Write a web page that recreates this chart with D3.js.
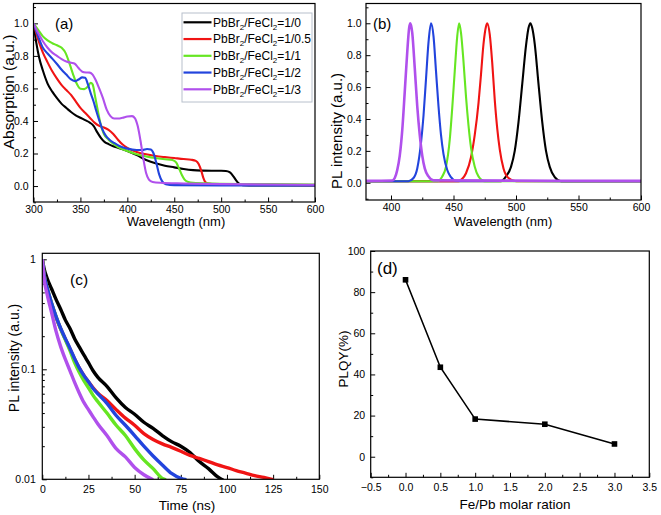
<!DOCTYPE html>
<html><head><meta charset="utf-8">
<script src="https://cdn.jsdelivr.net/npm/d3@7/dist/d3.min.js"></script>
<style>
body{margin:0;background:#fff}
text{font-family:"Liberation Sans",Arial,Helvetica,sans-serif;fill:#000}
</style>
</head><body>
<svg id="chart" width="661" height="515"></svg>
<script>
// ---------- DATA ----------
const ratios = ["1/0", "1/0.5", "1/1", "1/2", "1/3"];
const colors = ["#000000", "#f01414", "#66e622", "#2244dd", "#b050ec"];

// (a) absorption [wavelength nm, absorbance]
const abs_1_0 = [[300,1.0],[303,0.88],[306,0.79],[310,0.71],[315,0.63],[320,0.58],[325,0.54],[330,0.505],[335,0.48],[340,0.455],[345,0.435],[350,0.42],[355,0.405],[360,0.39],[364,0.37],[368,0.33],[372,0.295],[376,0.27],[380,0.258],[385,0.245],[390,0.235],[400,0.215],[410,0.19],[420,0.16],[430,0.14],[440,0.125],[450,0.115],[460,0.105],[470,0.098],[480,0.095],[490,0.094],[500,0.094],[505,0.093],[509,0.085],[513,0.06],[516,0.035],[519,0.015],[523,0.006],[540,0.004],[600,0.003]];
const abs_1_05 = [[300,1.0],[305,0.9],[310,0.82],[315,0.76],[320,0.705],[325,0.66],[330,0.62],[335,0.59],[340,0.56],[345,0.52],[350,0.48],[355,0.45],[360,0.42],[365,0.39],[370,0.37],[375,0.36],[380,0.345],[385,0.32],[390,0.285],[395,0.255],[400,0.235],[410,0.21],[420,0.195],[430,0.185],[440,0.178],[450,0.172],[460,0.166],[468,0.162],[473,0.155],[476,0.135],[479,0.09],[481,0.05],[483,0.025],[486,0.015],[495,0.01],[520,0.008],[600,0.006]];
const abs_1_1 = [[300,1.0],[305,0.96],[310,0.92],[315,0.895],[320,0.878],[325,0.865],[330,0.85],[334,0.82],[338,0.76],[342,0.69],[346,0.63],[350,0.598],[354,0.596],[358,0.612],[361,0.635],[363,0.625],[366,0.54],[369,0.45],[372,0.37],[375,0.32],[380,0.285],[385,0.26],[390,0.24],[400,0.215],[410,0.195],[420,0.182],[430,0.172],[440,0.165],[448,0.16],[452,0.145],[455,0.11],[458,0.07],[461,0.04],[465,0.025],[470,0.02],[490,0.016],[550,0.012],[600,0.01]];
const abs_1_2 = [[300,1.0],[305,0.92],[310,0.85],[315,0.815],[320,0.783],[325,0.75],[330,0.715],[335,0.685],[340,0.655],[344,0.645],[348,0.655],[352,0.668],[355,0.665],[358,0.625],[361,0.57],[364,0.52],[367,0.46],[370,0.405],[373,0.355],[377,0.31],[381,0.285],[386,0.265],[392,0.245],[400,0.23],[410,0.222],[416,0.222],[421,0.228],[425,0.225],[428,0.2],[431,0.14],[434,0.07],[437,0.03],[441,0.012],[450,0.006],[500,0.004],[600,0.003]];
const abs_1_3 = [[300,1.0],[305,0.94],[310,0.89],[315,0.85],[320,0.82],[325,0.8],[330,0.78],[335,0.765],[340,0.758],[344,0.752],[348,0.725],[352,0.703],[356,0.698],[360,0.697],[363,0.685],[366,0.655],[370,0.6],[374,0.54],[378,0.47],[382,0.43],[386,0.415],[390,0.415],[395,0.42],[400,0.428],[405,0.43],[408,0.418],[411,0.37],[414,0.28],[417,0.17],[420,0.08],[423,0.04],[427,0.025],[435,0.02],[460,0.016],[500,0.012],[600,0.008]];
const absSeries = [abs_1_0, abs_1_05, abs_1_1, abs_1_2, abs_1_3];

// (b) PL spectra [wavelength nm, normalized intensity]
const pl_1_0 = [[380,0.01],[488,0.01],[492,0.04],[496,0.1],[499,0.2],[502,0.38],[505,0.62],[508,0.86],[510,0.97],[511.5,1.0],[513,0.97],[515,0.87],[518,0.62],[521,0.38],[524,0.2],[527,0.1],[531,0.035],[536,0.01],[600,0.01]];
const pl_1_05 = [[380,0.01],[454,0.01],[457,0.025],[460,0.06],[464,0.16],[467,0.3],[470,0.5],[472,0.68],[474,0.87],[476,0.98],[477,1.0],[479,0.93],[481,0.75],[483,0.52],[485,0.34],[487,0.21],[490,0.09],[494,0.03],[500,0.01],[600,0.01]];
const pl_1_1 = [[380,0.01],[437,0.01],[441,0.04],[444,0.1],[447,0.27],[449,0.47],[451,0.7],[453,0.92],[454.5,1.0],[456,0.94],[458,0.76],[460,0.54],[462,0.36],[464,0.22],[467,0.1],[470,0.04],[475,0.01],[600,0.01]];
const pl_1_2 = [[380,0.01],[414,0.01],[418,0.03],[421,0.09],[424,0.25],[426,0.42],[428,0.65],[430,0.88],[432,1.0],[434,0.92],[436,0.7],[438,0.48],[440,0.3],[442,0.18],[445,0.08],[448,0.035],[452,0.012],[600,0.01]];
const pl_1_3 = [[380,0.012],[401,0.014],[403,0.03],[405,0.08],[407,0.17],[409,0.33],[411,0.57],[413,0.82],[414.5,0.97],[415.5,1.0],[417,0.94],[419,0.72],[421,0.48],[423,0.3],[425,0.17],[427,0.09],[430,0.04],[434,0.015],[600,0.012]];
const plSeries = [pl_1_0, pl_1_05, pl_1_1, pl_1_2, pl_1_3];

// (c) PL decay [time ns, normalized intensity]
const tr_1_0 = [[0,1.0],[1,0.82],[2.5,0.68],[5,0.54],[7.5,0.43],[10,0.35],[12.5,0.28],[15,0.235],[17.5,0.19],[20,0.16],[22.5,0.135],[25,0.115],[27.5,0.097],[30,0.085],[35,0.07],[40,0.055],[45,0.045],[50,0.039],[55,0.033],[60,0.029],[65,0.025],[70,0.022],[75,0.02],[80,0.0175],[85,0.0145],[90,0.0125],[95,0.0105],[98,0.0098]];
const tr_1_05 = [[0,1.0],[1,0.72],[2.5,0.555],[5,0.397],[7.5,0.297],[10,0.232],[12.5,0.188],[15,0.153],[17.5,0.124],[20,0.103],[22.5,0.088],[25,0.077],[27.5,0.068],[30,0.061],[35,0.052],[40,0.043],[45,0.036],[50,0.031],[55,0.026],[60,0.023],[65,0.021],[70,0.0195],[75,0.018],[80,0.0165],[85,0.0155],[90,0.0145],[95,0.0135],[100,0.0128],[105,0.012],[110,0.0114],[115,0.0108],[120,0.0104],[125,0.0099]];
const tr_1_1 = [[0,1.0],[1,0.72],[2.5,0.56],[5,0.4],[7.5,0.3],[10,0.232],[12.5,0.185],[15,0.148],[17.5,0.115],[20,0.094],[22.5,0.079],[25,0.068],[27.5,0.058],[30,0.051],[35,0.04],[40,0.031],[45,0.025],[50,0.019],[55,0.015],[60,0.0125],[65,0.0102],[67,0.0099]];
const tr_1_2 = [[0,1.0],[1,0.72],[2.5,0.56],[5,0.4],[7.5,0.3],[10,0.235],[12.5,0.19],[15,0.155],[17.5,0.125],[20,0.103],[22.5,0.088],[25,0.077],[27.5,0.067],[30,0.06],[35,0.049],[40,0.038],[45,0.031],[50,0.025],[55,0.02],[60,0.0163],[65,0.0135],[70,0.0113],[75,0.0102],[78,0.0099]];
const tr_1_3 = [[0,1.0],[1,0.66],[2.5,0.49],[5,0.33],[7.5,0.22],[10,0.16],[12.5,0.123],[15,0.097],[17.5,0.076],[20,0.061],[22.5,0.05],[25,0.043],[27.5,0.037],[30,0.032],[35,0.025],[40,0.019],[45,0.016],[50,0.0128],[55,0.011],[60,0.0099]];
const trSeries = [tr_1_0, tr_1_05, tr_1_1, tr_1_2, tr_1_3];

// (d) PLQY
const feRatio = [0, 0.5, 1, 2, 3];
const plqy = [86, 43.5, 18.3, 15.8, 6.2];

// tick values
const ticksA_x = [300,350,400,450,500,550,600];
const ticksA_y = [0,0.2,0.4,0.6,0.8,1.0];
const ticksB_x = [400,450,500,550,600];
const ticksC_x = [0,25,50,75,100,125,150];
const ticksC_y = [0.01,0.1,1];
const ticksD_x = [-0.5,0,0.5,1,1.5,2,2.5,3,3.5];
const ticksD_y = [0,20,40,60,80,100];

// ---------- DRAW ----------
const svg = d3.select("#chart");
const TICKFONT = 10.5;

function panel(o){
  const g = svg.append("g");
  const x = d3.scaleLinear().domain(o.xd).range([o.L, o.R]);
  const y = (o.log ? d3.scaleLog() : d3.scaleLinear()).domain(o.yd).range([o.B, o.T]);
  const cid = "clip-" + o.name;
  svg.append("clipPath").attr("id", cid).append("rect")
    .attr("x", o.L).attr("y", o.T).attr("width", o.R - o.L).attr("height", o.B - o.T);
  if (o.xminor) g.append("g").attr("transform", `translate(0,${o.B})`)
    .call(d3.axisBottom(x).tickValues(o.xminor).tickFormat("").tickSizeInner(-2.5).tickSizeOuter(0))
    .call(s => s.select(".domain").remove());
  if (o.yminor) g.append("g").attr("transform", `translate(${o.L},0)`)
    .call(d3.axisLeft(y).tickValues(o.yminor).tickFormat("").tickSizeInner(-2.5).tickSizeOuter(0))
    .call(s => s.select(".domain").remove());
  const xa = g.append("g").attr("transform", `translate(0,${o.B})`)
    .call(d3.axisBottom(x).tickValues(o.xt).tickFormat(o.xf).tickSizeInner(-4.5).tickSizeOuter(0).tickPadding(o.xpad));
  const ya = g.append("g").attr("transform", `translate(${o.L},0)`)
    .call(d3.axisLeft(y).tickValues(o.yt).tickFormat(o.yf).tickSizeInner(-4.5).tickSizeOuter(0).tickPadding(o.ypad));
  [xa, ya].forEach(a => {
    a.select(".domain").remove();
    a.selectAll("text").style("font-size", TICKFONT + "px").attr("fill", "#000");
  });
  g.selectAll(".tick line").attr("stroke", "#000").attr("stroke-width", 1);
  const plot = g.append("g").attr("clip-path", `url(#${cid})`);
  g.append("rect").attr("x", o.L).attr("y", o.T).attr("width", o.R - o.L).attr("height", o.B - o.T)
    .attr("fill", "none").attr("stroke", "#000").attr("stroke-width", 1.2);
  g.append("text").attr("x", o.xtitle[0]).attr("y", o.xtitle[1]).attr("text-anchor", "middle")
    .style("font-size", o.xtitle[2] + "px").text(o.xtitle[3]);
  g.append("text").attr("transform", `translate(${o.ytitle[0]},${o.ytitle[1]}) rotate(-90)`)
    .attr("text-anchor", "middle").attr("dy", "0.35em")
    .style("font-size", o.ytitle[2] + "px").text(o.ytitle[3]);
  g.append("text").attr("x", o.label[0]).attr("y", o.label[1])
    .style("font-size", o.label[2] + "px").text(o.label[3]);
  return {g, x, y, plot};
}

const range = (a, b, s) => d3.range(a, b + s / 2, s);

// (a)
const pa = panel({name:"a", L:33.5, R:315, T:3.5, B:202, xd:[300,600], yd:[-0.098,1.122],
  xt:ticksA_x, xf:d3.format("d"), yt:ticksA_y, yf:d3.format(".1f"),
  xminor:range(325,575,50), yminor:[-0.1,0.1,0.3,0.5,0.7,0.9,1.1],
  xpad:4, ypad:5,
  xtitle:[176,226,13,"Wavelength (nm)"], ytitle:[8.5,92,15.5,"Absorption (a.u.)"], label:[55,29,15,"(a)"]});
const lineA = d3.line().x(d => pa.x(d[0])).y(d => pa.y(d[1])).curve(d3.curveMonotoneX);
absSeries.forEach((s, i) => pa.plot.append("path").datum(s).attr("d", lineA)
  .attr("fill", "none").attr("stroke", colors[i]).attr("stroke-width", 2.1));

// legend
const lg = pa.g.append("g");
lg.append("rect").attr("x", 182).attr("y", 13).attr("width", 130).attr("height", 89)
  .attr("fill", "#fff").attr("stroke", "#b8c0cc").attr("stroke-width", 1);
ratios.forEach((r, i) => {
  const yy = 22.3 + i * 16.75;
  lg.append("line").attr("x1", 183.5).attr("x2", 211.5).attr("y1", yy).attr("y2", yy)
    .attr("stroke", colors[i]).attr("stroke-width", 2.2);
  const t = lg.append("text").attr("x", 213).attr("y", yy).attr("dy", "0.36em").style("font-size", "12px");
  t.append("tspan").text("PbBr");
  t.append("tspan").text("2").style("font-size", "8px").attr("dy", 3);
  t.append("tspan").text("/FeCl").attr("dy", -3);
  t.append("tspan").text("2").style("font-size", "8px").attr("dy", 3);
  t.append("tspan").text("=" + r).attr("dy", -3);
});

// (b)
const pb = panel({name:"b", L:366, R:641, T:3.5, B:200, xd:[380,600], yd:[-0.108,1.124],
  xt:ticksB_x, xf:d3.format("d"), yt:ticksA_y, yf:d3.format(".1f"),
  xminor:range(425,575,50), yminor:[-0.1,0.1,0.3,0.5,0.7,0.9,1.1],
  xpad:4, ypad:4.5,
  xtitle:[503,226,13,"Wavelength (nm)"], ytitle:[337,131,15,"PL intensity (a.u.)"], label:[373,29,15,"(b)"]});
const lineB = d3.line().x(d => pb.x(d[0])).y(d => pb.y(d[1])).curve(d3.curveMonotoneX);
plSeries.forEach((s, i) => pb.plot.append("path").datum(s).attr("d", lineB)
  .attr("fill", "none").attr("stroke", colors[i]).attr("stroke-width", i === 4 ? 2.6 : 2.1));

// (c)
const minorLog = [];
[0.01, 0.1].forEach(d => { for (let k = 2; k <= 9; k++) minorLog.push(d * k); });
const pc = panel({name:"c", L:42.3, R:319.3, T:253.3, B:479.3, xd:[0,150], yd:[0.01,1.134], log:true,
  xt:ticksC_x, xf:d3.format("d"), yt:ticksC_y, yf:d => (d === 1 ? "1" : String(d)),
  xminor:range(12.5,137.5,25), yminor:minorLog,
  xpad:6, ypad:6.5,
  xtitle:[187,510,13.5,"Time (ns)"], ytitle:[14,358,14,"PL intensity (a.u.)"], label:[70,285,15.5,"(c)"]});
const lineC = d3.line().x(d => pc.x(d[0])).y(d => pc.y(d[1])).curve(d3.curveMonotoneX);
trSeries.forEach((s, i) => pc.plot.append("path").datum(s).attr("d", lineC)
  .attr("fill", "none").attr("stroke", colors[i]).attr("stroke-width", 3.4).attr("stroke-linejoin", "round"));

// (d)
const pd = panel({name:"d", L:370.7, R:649.3, T:251, B:477.3, xd:[-0.5,3.5], yd:[-10,100],
  xt:ticksD_x, xf:d3.format(".1f"), yt:ticksD_y, yf:d3.format("d"),
  xminor:range(-0.25,3.25,0.5), yminor:range(-10,90,20),
  xpad:6, ypad:5.5,
  xtitle:[515,509,13.5,"Fe/Pb molar ration"], ytitle:[343,359,13.5,"PLQY(%)"], label:[377,274,17,"(d)"]});
const qy = feRatio.map((f, i) => [f, plqy[i]]);
pd.plot.append("path").datum(qy)
  .attr("d", d3.line().x(d => pd.x(d[0])).y(d => pd.y(d[1])))
  .attr("fill", "none").attr("stroke", "#000").attr("stroke-width", 1.6);
pd.plot.selectAll("rect.m").data(qy).join("rect").attr("class", "m")
  .attr("x", d => pd.x(d[0]) - 2.8).attr("y", d => pd.y(d[1]) - 2.8)
  .attr("width", 5.6).attr("height", 5.6).attr("fill", "#000");
</script>
</body></html>
